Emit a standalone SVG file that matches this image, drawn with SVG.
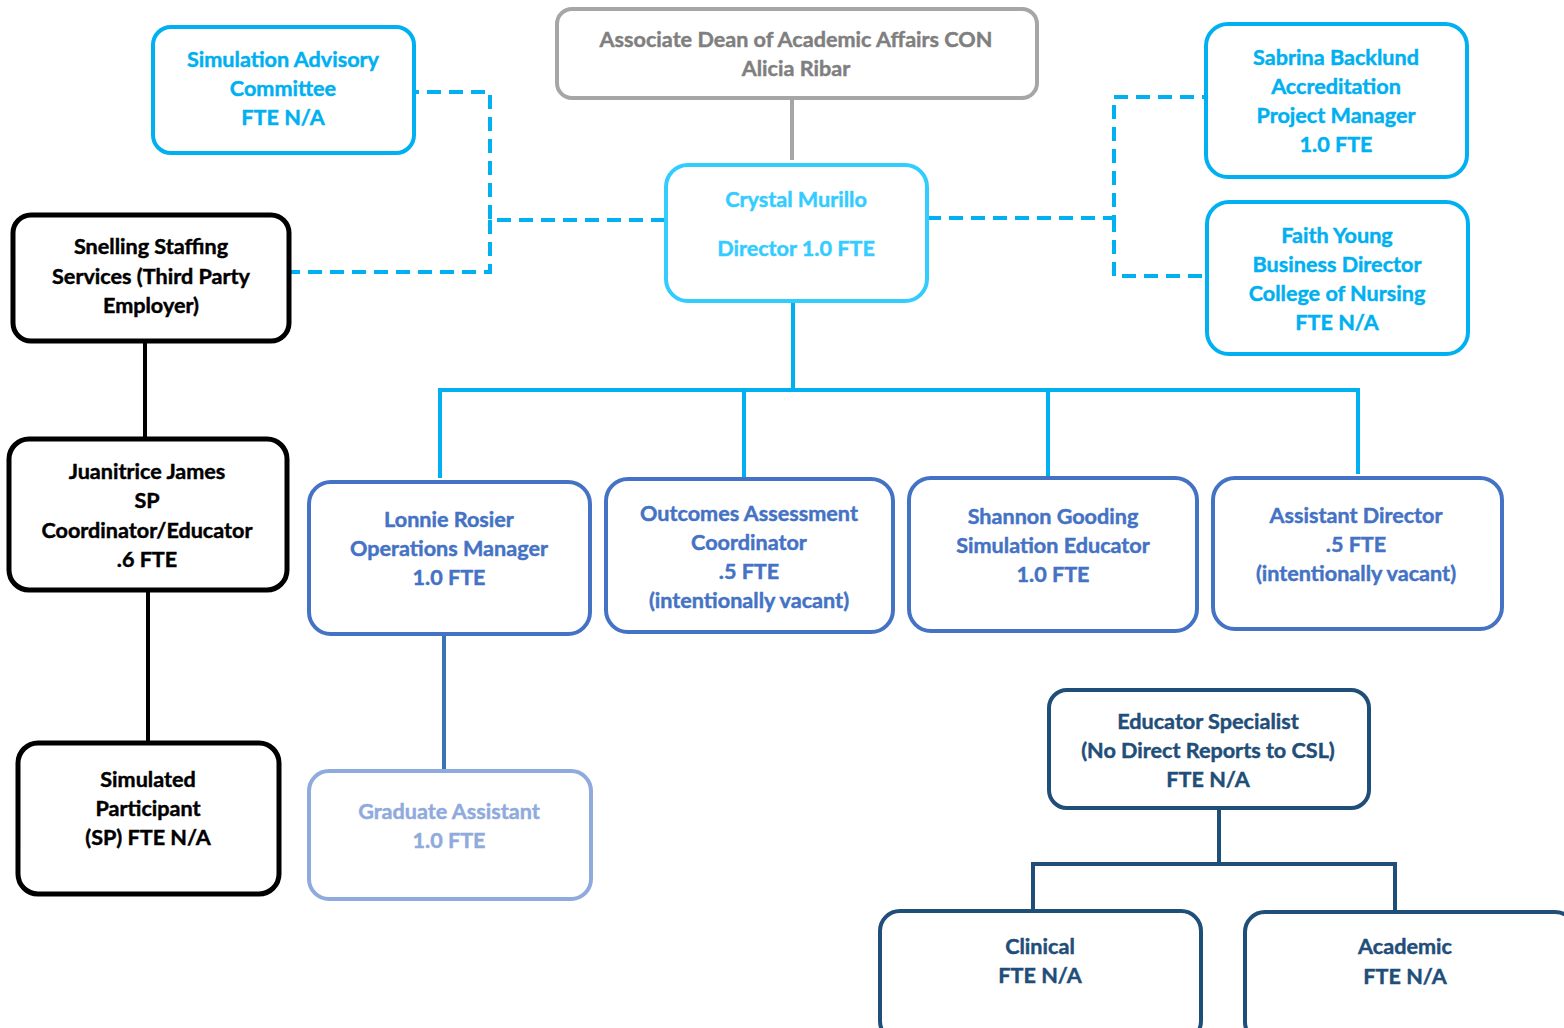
<svg xmlns="http://www.w3.org/2000/svg" width="1564" height="1028" viewBox="0 0 1564 1028">
<style>
  text { font-family: Lato, "Open Sans", "Liberation Sans", sans-serif; font-weight: 700; font-size: 21.6px; text-anchor: middle; fill: currentColor; stroke: currentColor; stroke-width: 0.45; }
  .box { fill: #ffffff; stroke-width: 4; }
  .gray { stroke: #a6a6a6; } .tgray { color: #7f7f7f; }
  .cyan { stroke: #33ccff; } .tcyan { color: #33ccff; }
  .sky { stroke: #00b0f0; } .tsky { color: #00b0f0; }
  .blk { stroke: #000000; stroke-width: 5; } .tblk { color: #000000; }
  .blue { stroke: #4472c4; } .tblue { color: #4472c4; }
  .lblue { stroke: #8faadc; } .tlblue { color: #8faadc; }
  .navy { stroke: #1f4e79; } .tnavy { color: #1f4e79; }
  .ln { fill: none; stroke-width: 4; }
  .dash { fill: none; stroke: #00b0f0; stroke-width: 4; stroke-dasharray: 14 8; }
</style>
<rect width="1564" height="1028" fill="#ffffff"/>
<g id="connectors">
  <line class="ln" x1="792" y1="98" x2="792" y2="160" stroke="#a6a6a6"/>
  <path class="dash" d="M665,220 H490 V92 H414"/>
  <path class="dash" d="M490,220 V272 H289"/>
  <path class="dash" d="M927,218 H1114 V97 H1205"/>
  <path class="dash" d="M1114,218 V276 H1207"/>
  <path class="ln" stroke="#00b0f0" d="M793,301 V390 M440,478 V390 H1358 V474 M744,390 V478 M1048,390 V477"/>
  <line x1="145" y1="341" x2="145" y2="438" stroke="#000" stroke-width="4"/>
  <line x1="148" y1="590" x2="148" y2="742" stroke="#000" stroke-width="4"/>
  <line class="ln" x1="444" y1="634" x2="444" y2="770" stroke="#3b73b9"/>
  <path class="ln" stroke="#1f4e79" d="M1219,808 V864 M1033,910 V864 H1395 V911"/>
</g>
<g id="dean">
  <rect class="box gray" x="557" y="9" width="480" height="89" rx="15"/>
  <text class="tgray" x="796" y="47">Associate Dean of Academic Affairs CON</text>
  <text class="tgray" x="796" y="76">Alicia Ribar</text>
</g>
<g id="director">
  <rect class="box cyan" x="666" y="165" width="261" height="136" rx="22"/>
  <text class="tcyan" x="796" y="207">Crystal Murillo</text>
  <text class="tcyan" x="796" y="256">Director 1.0 FTE</text>
</g>
<g id="advisory">
  <rect class="box sky" x="153" y="27" width="261" height="126" rx="18"/>
  <text class="tsky" x="283" y="67">Simulation Advisory</text>
  <text class="tsky" x="283" y="96">Committee</text>
  <text class="tsky" x="283" y="125">FTE N/A</text>
</g>
<g id="sabrina">
  <rect class="box sky" x="1206" y="24" width="261" height="153" rx="22"/>
  <text class="tsky" x="1336" y="65">Sabrina Backlund</text>
  <text class="tsky" x="1336" y="94">Accreditation</text>
  <text class="tsky" x="1336" y="123">Project Manager</text>
  <text class="tsky" x="1336" y="152">1.0 FTE</text>
</g>
<g id="faith">
  <rect class="box sky" x="1207" y="202" width="261" height="152" rx="22"/>
  <text class="tsky" x="1337" y="243">Faith Young</text>
  <text class="tsky" x="1337" y="272">Business Director</text>
  <text class="tsky" x="1337" y="301">College of Nursing</text>
  <text class="tsky" x="1337" y="330">FTE N/A</text>
</g>
<g id="snelling">
  <rect class="box blk" x="13" y="215" width="276" height="126" rx="18"/>
  <text class="tblk" x="151" y="254">Snelling Staffing</text>
  <text class="tblk" x="151" y="284">Services (Third Party</text>
  <text class="tblk" x="151" y="313">Employer)</text>
</g>
<g id="juanitrice">
  <rect class="box blk" x="9" y="439" width="278" height="151" rx="20"/>
  <text class="tblk" x="147" y="479">Juanitrice James</text>
  <text class="tblk" x="147" y="508">SP</text>
  <text class="tblk" x="147" y="538">Coordinator/Educator</text>
  <text class="tblk" x="147" y="567">.6 FTE</text>
</g>
<g id="simulated">
  <rect class="box blk" x="18" y="743" width="261" height="151" rx="20"/>
  <text class="tblk" x="148" y="787">Simulated</text>
  <text class="tblk" x="148" y="816">Participant</text>
  <text class="tblk" x="148" y="845">(SP) FTE N/A</text>
</g>
<g id="lonnie">
  <rect class="box blue" x="309" y="482" width="281" height="152" rx="22"/>
  <text class="tblue" x="449" y="527">Lonnie Rosier</text>
  <text class="tblue" x="449" y="556">Operations Manager</text>
  <text class="tblue" x="449" y="585">1.0 FTE</text>
</g>
<g id="outcomes">
  <rect class="box blue" x="606" y="479" width="287" height="153" rx="22"/>
  <text class="tblue" x="749" y="521">Outcomes Assessment</text>
  <text class="tblue" x="749" y="550">Coordinator</text>
  <text class="tblue" x="749" y="579">.5 FTE</text>
  <text class="tblue" x="749" y="608">(intentionally vacant)</text>
</g>
<g id="shannon">
  <rect class="box blue" x="909" y="478" width="288" height="153" rx="22"/>
  <text class="tblue" x="1053" y="524">Shannon Gooding</text>
  <text class="tblue" x="1053" y="553">Simulation Educator</text>
  <text class="tblue" x="1053" y="582">1.0 FTE</text>
</g>
<g id="assistant">
  <rect class="box blue" x="1213" y="478" width="289" height="151" rx="22"/>
  <text class="tblue" x="1356" y="523">Assistant Director</text>
  <text class="tblue" x="1356" y="552">.5 FTE</text>
  <text class="tblue" x="1356" y="581">(intentionally vacant)</text>
</g>
<g id="graduate">
  <rect class="box lblue" x="309" y="771" width="282" height="128" rx="20"/>
  <text class="tlblue" x="449" y="819">Graduate Assistant</text>
  <text class="tlblue" x="449" y="848">1.0 FTE</text>
</g>
<g id="educator">
  <rect class="box navy" x="1049" y="690" width="320" height="118" rx="18"/>
  <text class="tnavy" x="1208" y="729">Educator Specialist</text>
  <text class="tnavy" x="1208" y="758">(No Direct Reports to CSL)</text>
  <text class="tnavy" x="1208" y="787">FTE N/A</text>
</g>
<g id="clinical">
  <rect class="box navy" x="880" y="911" width="321" height="130" rx="20"/>
  <text class="tnavy" x="1040" y="954">Clinical</text>
  <text class="tnavy" x="1040" y="983">FTE N/A</text>
</g>
<g id="academic">
  <rect class="box navy" x="1245" y="912" width="330" height="130" rx="20"/>
  <text class="tnavy" x="1405" y="954">Academic</text>
  <text class="tnavy" x="1405" y="984">FTE N/A</text>
</g>
</svg>
